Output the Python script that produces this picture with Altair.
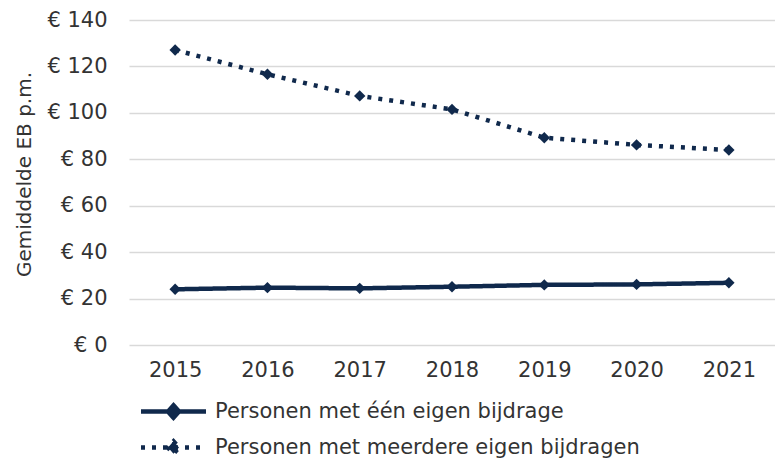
import altair as alt
import pandas as pd

years = ["2015", "2016", "2017", "2018", "2019", "2020", "2021"]
one_contribution = [24.0, 24.7, 24.4, 25.1, 25.9, 26.1, 26.8]
multiple_contributions = [127.1, 116.6, 107.3, 101.5, 89.3, 86.2, 84.0]
series_names = ["Personen met één eigen bijdrage", "Personen met meerdere eigen bijdragen"]
y_ticks = [0, 20, 40, 60, 80, 100, 120, 140]

rows = []
for s, vals in zip(series_names, [one_contribution, multiple_contributions]):
    for y, v in zip(years, vals):
        rows.append({"year": y, "value": v, "series": s})
df = pd.DataFrame(rows)

NAVY = "#10294c"
TEXT = "#333333"
FONT = "DejaVu Sans"
FS = 21
DASHES = [[1, 0], [4, 7]]
# legend symbol: long line with a filled diamond in the middle (unit box -1..1)
LEGEND_SYMBOL = "M-3.25,0L3.25,0M0,-0.62L0.55,0L0,0.62L-0.55,0Z"

x = alt.X("year:O", title=None,
          axis=alt.Axis(labelAngle=0, labelPadding=14, ticks=False, domain=False,
                        labelFontSize=FS, labelFont=FONT, labelColor=TEXT))
y = alt.Y("value:Q", title="Gemiddelde EB p.m.",
          scale=alt.Scale(domain=[0, 140], nice=False),
          axis=alt.Axis(values=y_ticks, labelExpr="'€ ' + datum.value", ticks=False, domain=False,
                        labelPadding=22, labelFontSize=FS, labelFont=FONT, labelColor=TEXT,
                        titleFontSize=20, titleFont=FONT, titleFontWeight="normal", titleColor=TEXT,
                        titleX=-95, titleY=154, titleAngle=270, titleBaseline="bottom",
                        titleAlign="center",
                        gridColor="#d9d9d9", gridWidth=1.5))

legend = alt.Legend(title=None, orient="none", legendX=32, legendY=379,
                    symbolType=LEGEND_SYMBOL, symbolSize=400, symbolStrokeWidth=4.5,
                    symbolFillColor=NAVY, symbolOpacity=1,
                    labelFontSize=FS, labelFont=FONT, labelColor=TEXT,
                    labelOffset=29, rowPadding=5, labelLimit=600)

lines = alt.Chart(df).mark_line(strokeWidth=4.5).encode(
    x=x, y=y,
    color=alt.Color("series:N", scale=alt.Scale(domain=series_names, range=[NAVY, NAVY]),
                    legend=legend),
    strokeDash=alt.StrokeDash("series:N",
        scale=alt.Scale(domain=series_names, range=DASHES), legend=legend),
)

points = alt.Chart(df).mark_point(shape="diamond", filled=True, color=NAVY, opacity=1, size=130).encode(
    x=x, y=y,
)

chart = alt.layer(lines, points).properties(
    width=646, height=325,
    autosize=alt.AutoSizeParams(type="none"),
    padding={"left": 121, "top": 12, "right": 0, "bottom": 115},
).configure_view(stroke=None)

chart.save("out.html", embed_options={"renderer": "svg", "actions": False})
